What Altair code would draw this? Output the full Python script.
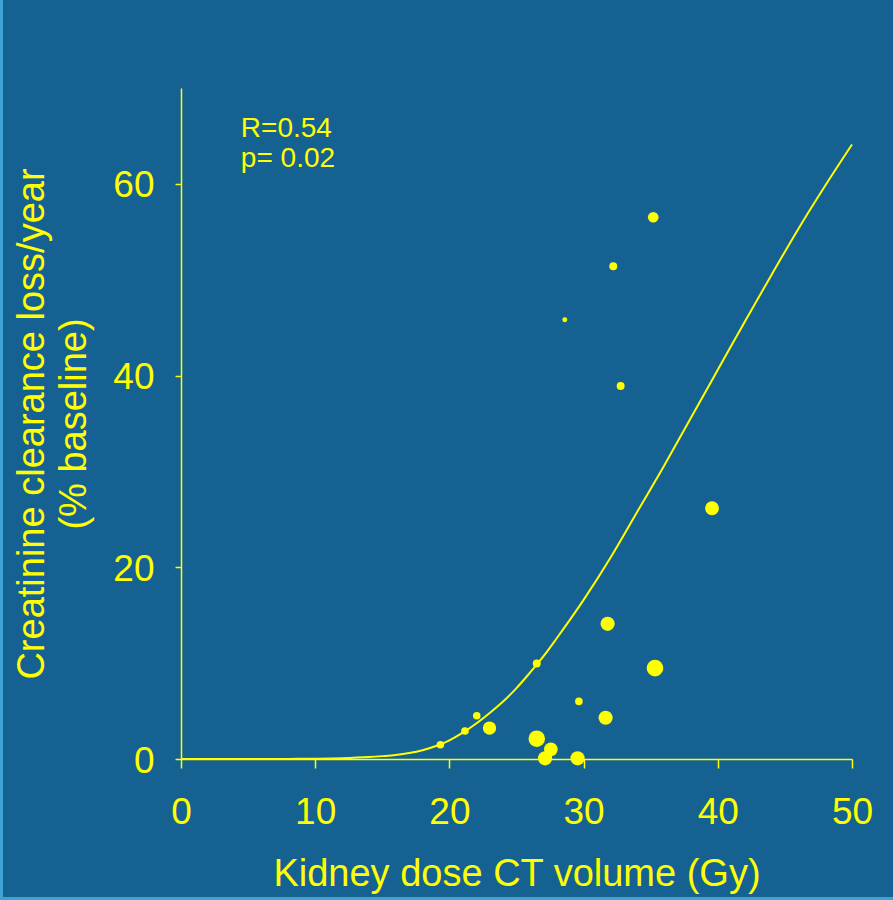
import altair as alt
import pandas as pd

# Scatter points
dose = [19.33, 21.16, 22.04, 22.99, 26.51, 26.51, 27.56, 27.13, 29.55, 29.65,
        28.60, 32.21, 35.19, 32.76, 31.79, 31.64, 35.32, 39.57]
loss = [1.49, 2.92, 4.51, 3.23, 9.97, 2.12, 1.01, 0.07, 0.07, 6.01,
        45.83, 51.41, 56.52, 38.91, 14.10, 4.30, 9.48, 26.16]
weight = [19, 19, 19, 59, 21, 91, 62, 67, 67, 19,
          8, 21, 38, 21, 67, 67, 91, 64]

# Fitted curve
fit_x = [0, 5, 8, 10, 12, 14, 15, 16, 17, 18, 19, 20, 21, 22, 23, 24, 25, 26, 27,
         28, 30, 32, 34, 36, 38, 40, 42, 44, 46, 48, 50]
fit_y = [0, 0, 0.01, 0.03, 0.08, 0.2, 0.3, 0.42, 0.62, 0.92, 1.35, 1.95, 2.75,
         3.7, 4.8, 6.0, 7.4, 9.0, 10.7, 12.6, 16.6, 21.0, 25.8, 30.6, 35.6,
         40.6, 45.6, 50.5, 55.3, 59.8, 64.1]

x_ticks = [0, 10, 20, 30, 40, 50]
y_ticks = [0, 20, 40, 60]

ann_text = ["R=0.54", "p= 0.02"]
ann_x = [4.46, 4.46]
ann_y = [64.93, 61.8]

YEL = "#ffff00"
BG = "#156192"
FONT = "Liberation Sans"

pts = pd.DataFrame({"x": dose, "y": loss, "w": weight})
fit = pd.DataFrame({"x": fit_x, "y": fit_y})
ann = pd.DataFrame({"x": ann_x, "y": ann_y, "t": ann_text})

xs = alt.Scale(domain=[0, 50], nice=False, zero=False)
ys = alt.Scale(domain=[0, 70], nice=False, zero=False)

xaxis = alt.Axis(values=x_ticks, title="Kidney dose CT volume (Gy)",
                 tickSize=9, labelPadding=26, titleBaseline="alphabetic",
                 titleY=126, labelFlush=False, labelOverlap=False)
yaxis = alt.Axis(values=y_ticks,
                 title=["Creatinine clearance loss/year", "(% baseline)"],
                 tickSize=6, labelPadding=21, labelOffset=2,
                 titleAngle=270, titleBaseline="alphabetic", titleAlign="center",
                 titleX=-138, titleY=335.5, titleLineHeight=42,
                 labelOverlap=False)

points = alt.Chart(pts).mark_circle(color=YEL, opacity=1).encode(
    x=alt.X("x:Q", scale=xs, axis=xaxis),
    y=alt.Y("y:Q", scale=ys, axis=yaxis),
    size=alt.Size("w:Q", scale=alt.Scale(domain=[0, 100], range=[0, 300]), legend=None),
)

curve = alt.Chart(fit).mark_line(color=YEL, strokeWidth=2, interpolate="monotone").encode(
    x=alt.X("x:Q", scale=xs),
    y=alt.Y("y:Q", scale=ys),
)

texts = alt.Chart(ann).mark_text(color=YEL, font=FONT, fontSize=28, align="left",
                                 baseline="alphabetic").encode(
    x=alt.X("x:Q", scale=xs),
    y=alt.Y("y:Q", scale=ys),
    text="t:N",
)

left_strip = alt.Chart().mark_rule(color="#3fa3d5", strokeWidth=3).encode(
    x=alt.value(-179.5), y=alt.value(-88), y2=alt.value(812))
bottom_strip = alt.Chart().mark_rule(color="#3fa3d5", strokeWidth=3).encode(
    y=alt.value(810.5), x=alt.value(-181), x2=alt.value(712))

chart = alt.layer(points, curve, texts, left_strip, bottom_strip).properties(
    width=671, height=671,
    padding={"left": 181, "top": 88, "right": 41, "bottom": 141},
    autosize=alt.AutoSizeParams(type="none"),
    background=BG,
).configure_view(strokeWidth=0).configure_axis(
    domainColor=YEL, domainWidth=1.5, tickColor=YEL, tickWidth=1.5,
    labelColor=YEL, labelFont=FONT, labelFontSize=37,
    titleColor=YEL, titleFont=FONT, titleFontSize=38, titleFontWeight="normal",
    grid=False,
)

chart.save("out.html", embed_options={"renderer": "svg", "actions": False})
